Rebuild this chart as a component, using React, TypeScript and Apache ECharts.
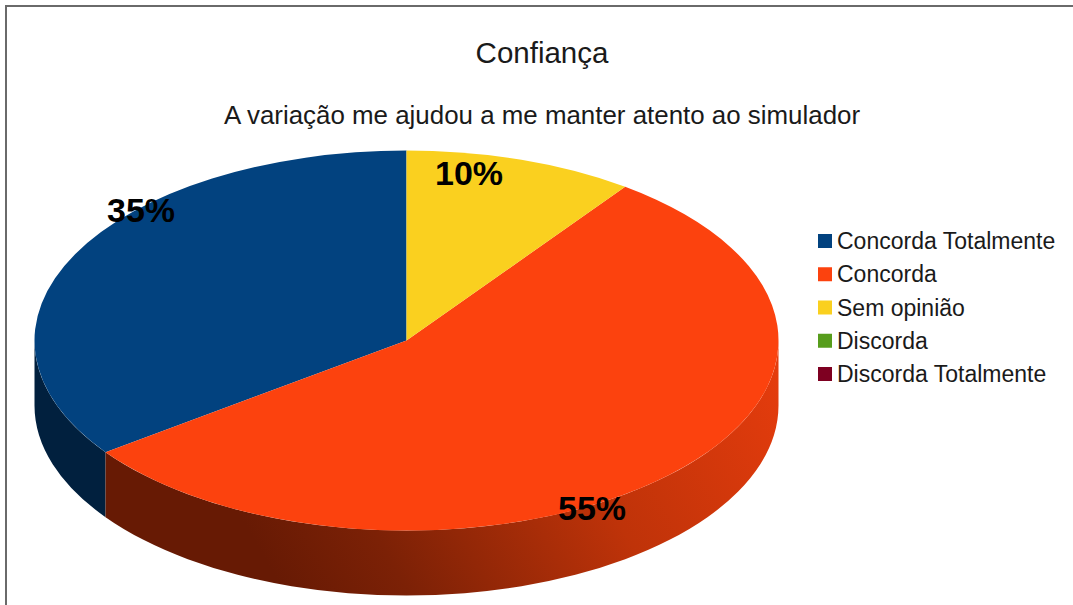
import React, { useEffect, useRef } from "react";
import * as echarts from "echarts";

const chartTitle = "Confiança";
const chartSubtitle = "A variação me ajudou a me manter atento ao simulador";
const categories = ["Concorda Totalmente", "Concorda", "Sem opinião", "Discorda", "Discorda Totalmente"];
const seriesValues = [35, 55, 10, 0, 0];
// Slices run clockwise from 12 o'clock in this order (reference order).
const drawOrder = [2, 1, 0];

const palette = ["#02427f", "#fc420e", "#fad01f", "#579d1c", "#7e0021"];
const FONT = '"Liberation Sans", Arial, sans-serif';
const CX = 406.5, CY = 340.5, RX = 372, RY = 190, DEPTH = 65;

const labelAnchors: Record<number, [number, number]> = {
  0: [141, 210],
  1: [592, 508],
  2: [469, 173],
};

const total = seriesValues.reduce((a, b) => a + b, 0);
const startAngles: Record<number, number> = {};
{
  let acc = 0;
  drawOrder.forEach((i) => {
    startAngles[i] = acc;
    acc += (seriesValues[i] / total) * Math.PI * 2;
  });
}
const px = (a: number) => CX + RX * Math.sin(a);
const py = (a: number) => CY - RY * Math.cos(a);

function sidePath(a: number, b: number) {
  // visible rim spans the clock angles pi/2 .. 3pi/2
  const s = Math.max(a, Math.PI / 2);
  const e = Math.min(b, (3 * Math.PI) / 2);
  if (e <= s) return null;
  const large = e - s > Math.PI ? 1 : 0;
  return (
    `M${px(s)} ${py(s)} A${RX} ${RY} 0 ${large} 1 ${px(e)} ${py(e)} ` +
    `L${px(e)} ${py(e) + DEPTH} A${RX} ${RY} 0 ${large} 0 ${px(s)} ${py(s) + DEPTH} Z`
  );
}

function topPath(a: number, b: number) {
  const large = b - a > Math.PI ? 1 : 0;
  return `M${CX} ${CY} L${px(a)} ${py(a)} A${RX} ${RY} 0 ${large} 1 ${px(b)} ${py(b)} Z`;
}

const sideFill: Record<number, any> = {
  0: "#01203e",
  1: {
    type: "linear", x: 300, y: 620, x2: 770, y2: 350, global: true,
    colorStops: [
      { offset: 0, color: "#671a04" },
      { offset: 0.2, color: "#7c2106" },
      { offset: 0.6, color: "#bf3309" },
      { offset: 1, color: "#e53c0d" },
    ],
  },
};

function makeRenderItem(i: number) {
  return (_params: any, api: any) => {
    const v = api.value(0);
    if (!v) return { type: "group", children: [] };
    const a = startAngles[i];
    const b = a + (v / total) * Math.PI * 2;
    const children: any[] = [];
    const side = sidePath(a, b);
    if (side) {
      children.push({ type: "path", shape: { pathData: side }, style: { fill: sideFill[i] } });
    }
    children.push({ type: "path", shape: { pathData: topPath(a, b) }, style: { fill: palette[i] } });
    const [lx, ly] = labelAnchors[i];
    children.push({
      type: "text",
      z2: 10,
      style: {
        x: lx, y: ly, text: `${v}%`, align: "center", verticalAlign: "middle",
        font: `bold 34px ${FONT}`, fill: "#000",
      },
    });
    return { type: "group", children };
  };
}

export default function App() {
  const ref = useRef<HTMLDivElement>(null);
  useEffect(() => {
    document.body.style.margin = "0";
    const chart = echarts.init(ref.current!, null, { renderer: "svg" });
    chart.setOption({
      animation: false,
      backgroundColor: "#fff",
      title: [
        { text: chartTitle, left: 537, top: 32, textAlign: "center",
          textStyle: { fontFamily: FONT, fontSize: 29.5, fontWeight: "normal", color: "#1a1a1a" } },
        { text: chartSubtitle, left: 537, top: 97, textAlign: "center",
          textStyle: { fontFamily: FONT, fontSize: 25.9, fontWeight: "normal", color: "#1a1a1a" } },
      ],
      legend: {
        orient: "vertical", left: 813, top: 224.5, itemWidth: 14, itemHeight: 14, itemGap: 10.25,
        icon: "rect", selectedMode: false, data: categories,
        textStyle: { fontFamily: FONT, fontSize: 23, color: "#1a1a1a", padding: [0, 0, 0, 0] },
      },
      graphic: [
        { type: "polyline", silent: true, shape: { points: [[6, 605], [6, 6], [1073, 6]] },
          style: { stroke: "#6a6a6a", lineWidth: 2, fill: "none" } },
      ],
      series: categories.map((name, i) => ({
        type: "custom", name, coordinateSystem: "none", data: [[seriesValues[i]]],
        itemStyle: { color: palette[i] }, renderItem: makeRenderItem(i), silent: true,
      })),
    });
    return () => chart.dispose();
  }, []);
  return <div ref={ref} style={{ width: 1073, height: 605 }} />;
}
